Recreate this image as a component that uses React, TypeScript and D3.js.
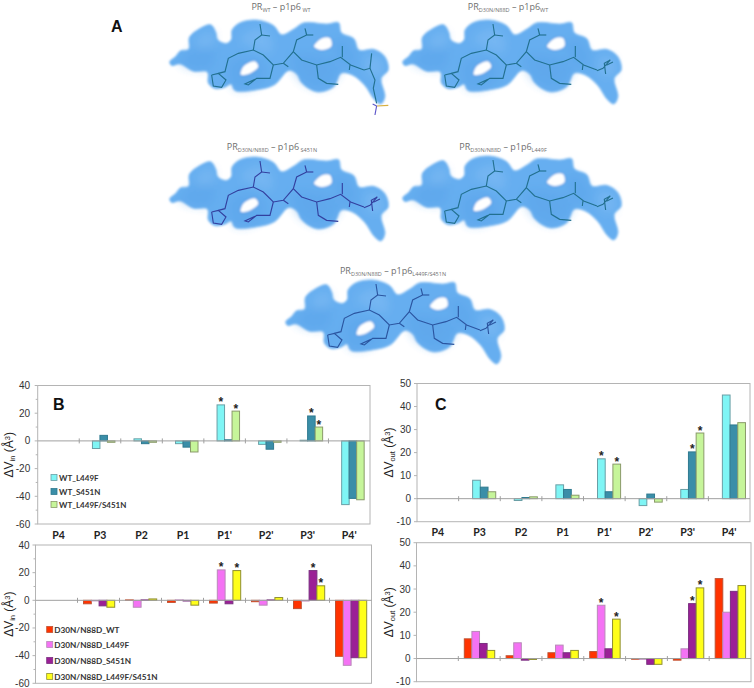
import React from "react";
import * as d3 from "d3";

const positions = ["P4", "P3", "P2", "P1", "P1'", "P2'", "P3'", "P4'"];

const wtSeries = ["WT_L449F", "WT_S451N", "WT_L449F/S451N"];
const wtColors = ["#7ff5f5", "#3a8ea8", "#c6f59a"];
const wtStroke = ["#6a9fa6", "#2f7a90", "#8a9a6a"];
const dnSeries = ["D30N/N88D_WT", "D30N/N88D_L449F", "D30N/N88D_S451N", "D30N/N88D_L449F/S451N"];
const dnColors = ["#ff3300", "#f472f4", "#9b2096", "#ffff1a"];
const dnStroke = ["#c05030", "#b88ab8", "#7a3080", "#8f8f30"];

const vinWt = [
  [0, -5.5, 1.5, -2, 26, -2.5, 0.5, -46],
  [0, 4, -2, -4.5, 0.8, -6, 18, -41.5],
  [0, -1, -1, -8, 21.5, -1, 10, -42.5],
];
const vinDn = [
  [0, -2.5, 0.3, -1.5, -2, -1, -6, -40.5],
  [0, -0.4, -5, 0.3, 22, -3.5, -0.5, -47],
  [0, -4, 0.3, -0.5, -2.5, 0.3, 21.5, -41.5],
  [0, -5, 1, -3.5, 21.5, 2, 10.5, -41.5],
];
const voutWt = [
  [0, 8, -0.8, 6, 17.3, -3, 4, 45],
  [0, 5, 0.5, 4, 3, 2, 20.3, 32],
  [0, 3, 0.8, 1.5, 15, -1.5, 28.5, 33],
];
const voutDn = [
  [0, 8.5, 1.2, 2.5, 3, -0.3, -0.7, 34.5],
  [0, 11.7, 6.8, 5.8, 23, -0.3, 4.2, 20],
  [0, 6.5, -0.7, 2.5, 4.2, -2.5, 23.7, 29],
  [0, 3.5, -0.4, 3.5, 17, -2.5, 30.5, 31.5],
];

const starsVinWt: [number, number][] = [[4, 0], [4, 2], [6, 1], [6, 2]];
const starsVinDn: [number, number][] = [[4, 1], [4, 3], [6, 2], [6, 3]];
const starsVoutWt: [number, number][] = [[4, 0], [4, 2], [6, 1], [6, 2]];
const starsVoutDn: [number, number][] = [[4, 1], [4, 3], [6, 2], [6, 3]];

// Molecular surface outline, holes and stick traces (3x units).
const blobOutline: [number, number][] = [
  [209, 185], [226, 170], [242, 152], [266, 148], [268, 112], [292, 90], [332, 74], [347, 95], [354, 120], [380, 130], [394, 118],
  [396, 90], [420, 68], [470, 60], [520, 76], [545, 104], [580, 88], [612, 68], [680, 72], [716, 68], [724, 98],
  [762, 116], [777, 150], [822, 148], [855, 170], [865, 210], [844, 235], [855, 290], [843, 312], [824, 300], [794, 256],
  [758, 226], [724, 220], [702, 260], [652, 276], [606, 250], [590, 222], [566, 212], [524, 254], [480, 268], [405, 272],
  [393, 252], [375, 262], [345, 266], [325, 250], [322, 216], [280, 214], [240, 192], [215, 197],
];
const holeA: [number, number][] = [[420, 225], [430, 197], [465, 182], [477, 200], [445, 225]];
const holeB: [number, number][] = [[640, 140], [665, 113], [692, 113], [696, 140], [665, 152]];
const shadeA: [number, number][] = [[400, 262], [388, 190], [440, 172], [490, 190], [490, 240], [440, 268]];
const shadeB: [number, number][] = [[600, 240], [575, 170], [640, 165], [710, 185], [720, 215], [670, 265]];
const shadeC: [number, number][] = [[240, 190], [265, 160], [320, 130], [345, 170], [325, 205], [280, 205]];
const shadeD: [number, number][] = [[700, 125], [740, 120], [770, 190], [730, 200]];
const glowA: [number, number][] = [[420, 120], [470, 85], [515, 110], [510, 160], [455, 140]];
const glowB: [number, number][] = [[290, 115], [335, 95], [345, 130], [300, 150]];
const glowC: [number, number][] = [[800, 170], [845, 180], [845, 225], [805, 225]];
const sticks: [number, number][][] = [
  [[335, 225], [355, 220], [378, 240], [365, 262], [340, 258], [335, 225]],
  [[355, 220], [375, 215], [385, 175], [415, 160], [460, 150], [490, 165], [520, 195], [550, 190], [580, 155], [590, 120], [620, 105]],
  [[460, 150], [465, 120], [485, 105], [480, 72]],
  [[485, 105], [510, 108]],
  [[520, 195], [510, 235], [470, 235], [445, 255], [435, 252], [465, 238]],
  [[550, 190], [565, 200]],
  [[620, 105], [615, 85]],
  [[620, 105], [640, 105]],
  [[580, 155], [605, 180], [650, 195], [690, 185], [722, 172], [752, 195], [792, 210]],
  [[650, 195], [655, 235], [680, 250], [715, 253]],
  [[727, 172], [727, 138]],
  [[750, 195], [748, 210]],
];
const endWt: [number, number][][] = [
  [[792, 210], [810, 205], [825, 240], [820, 265], [830, 310]],
  [[810, 205], [815, 160]],
];
const endMutant: [number, number][][] = [
  [[792, 212], [810, 205], [832, 180], [814, 190], [818, 222]],
  [[820, 196], [840, 186]],
];
const tail: [number, number][][] = [
  [[830, 318], [865, 316]],
  [[830, 318], [825, 345]],
  [[830, 318], [818, 312]],
];

const BLOB = "#66aef0";
const closed = d3.line().curve(d3.curveCatmullRomClosed.alpha(0.5));
const open = d3.line().curve(d3.curveLinear);
const SANS = "Liberation Sans, sans-serif";
const HEAD = "Lato, sans-serif";

function Molecule({ dx, dy, stick, wt }: { dx: number; dy: number; stick: string; wt?: boolean }) {
  const lines = sticks.concat(wt ? endWt : endMutant);
  return (
    <g transform={`translate(${100 + dx},${dy}) scale(0.3333)`}>
      <g filter="url(#soft)">
        <path d={closed(blobOutline) || ""} fill={BLOB} stroke="#8cc2f3" strokeWidth={3} />
        {[shadeA, shadeB, shadeC, shadeD].map((s, i) => (
          <path key={i} d={closed(s) || ""} fill="#5aa2e8" opacity={0.45} filter="url(#blurBig)" />
        ))}
        {[glowA, glowB, glowC].map((s, i) => (
          <path key={i} d={closed(s) || ""} fill="#82bdf4" opacity={0.5} filter="url(#blurBig)" />
        ))}
        {[holeA, holeB].map((s, i) => (
          <path key={i} d={closed(s) || ""} fill="#ffffff" stroke="#5aa0e6" strokeWidth={4} />
        ))}
      </g>
      <g filter="url(#soft2)" fill="none" stroke={stick} strokeWidth={3.4}>
        {lines.map((s, i) => (
          <path key={i} d={open(s) || ""} />
        ))}
        {wt && tail.map((s, i) => (
          <path key={i} d={open(s) || ""} stroke={i === 0 ? "#d8b040" : "#5b55c8"} />
        ))}
      </g>
    </g>
  );
}

function MolTitle({ x, y, left, right }: { x: number; y: number; left: string; right: string }) {
  return (
    <text x={x} y={y} textAnchor="middle" fontFamily="Open Sans, sans-serif" fontSize={9} fill="#6f6f6f">
      PR<tspan fontSize={5.5} dy={2}>{left}</tspan>
      <tspan dy={-2}> – p1p6</tspan>
      <tspan fontSize={5.5} dy={2}>{right}</tspan>
    </text>
  );
}

type ChartProps = {
  left: number; right: number; yTop: number; yBottom: number; domain: [number, number];
  major: number; barStart: number; barWidth: number; tickGap: number; minor?: boolean;
  values: number[][]; colors: string[]; strokes: string[]; stars: [number, number][];
  showLabels?: boolean; labelY?: number; sub: string; titleX: number;
};

function Chart(p: ChartProps) {
  const x = d3.scaleBand<string>().domain(positions).range([p.left, p.right]);
  const y = d3.scaleLinear().domain(p.domain).range([p.yBottom, p.yTop]);
  const inner = d3.scaleBand<number>()
    .domain(p.values.map((_, i) => i))
    .range([p.barStart, p.barStart + p.barWidth * p.values.length]);
  const majors = d3.range(p.domain[0], p.domain[1] + 0.01, p.major);
  const minors = p.minor ? d3.range(p.domain[0], p.domain[1] + 0.01, p.major / 2) : majors;
  const zero = y(0);
  return (
    <g>
      <rect x={p.left} y={p.yTop} width={p.right - p.left} height={p.yBottom - p.yTop} fill="none" stroke="#b4b4b4" strokeWidth={1} />
      {minors.map((t) => (
        <line key={t} x1={p.left - (majors.includes(t) ? 3 : 2)} x2={p.left} y1={y(t)} y2={y(t)} stroke="#b4b4b4" />
      ))}
      {majors.map((t) => (
        <text key={t} x={p.left - p.tickGap} y={y(t) + 3.5} textAnchor="end" fontFamily={SANS} fontSize={10} fill="#333">{t}</text>
      ))}
      {p.values.map((series, s) =>
        series.map((v, c) =>
          c === 0 ? null : (
            <rect key={`${s}-${c}`} x={(x(positions[c]) as number) + (inner(s) as number)} width={p.barWidth}
              y={Math.min(y(v), zero)} height={Math.abs(y(v) - zero)}
              fill={p.colors[s]} stroke={p.strokes[s]} strokeWidth={1} />
          ),
        ),
      )}
      <line x1={p.left} x2={p.right} y1={zero} y2={zero} stroke="#a0a0a0" />
      {positions.map((c, i) => (i === 0 ? null : (
        <line key={c} x1={x(c)} x2={x(c)} y1={zero - 2.5} y2={zero + 2.5} stroke="#a0a0a0" />
      )))}
      {p.showLabels && positions.map((c) => (
        <text key={c} x={(x(c) as number) + x.bandwidth() / 2} y={p.labelY} textAnchor="middle"
          fontFamily={HEAD} fontWeight="bold" fontSize={10.5} fill="#222">{c}</text>
      ))}
      {p.stars.map(([c, s]) => {
        const v = p.values[s][c];
        return (
          <text key={`${c}-${s}`} x={(x(positions[c]) as number) + (inner(s) as number) + p.barWidth / 2} y={y(v) + 1.5}
            textAnchor="middle" fontFamily={SANS} fontWeight="bold" fontSize={12} fill="#222">*</text>
        );
      })}
      <text transform={`translate(${p.titleX},${(p.yTop + p.yBottom) / 2}) rotate(-90)`} textAnchor="middle"
        fontFamily={SANS} fontSize={12} fill="#222">
        ΔV<tspan fontSize={7.5} dy={2}>{p.sub}</tspan><tspan dy={-2}> (Å</tspan><tspan fontSize={7.5} dy={-3}>3</tspan><tspan dy={3}>)</tspan>
      </text>
    </g>
  );
}

function Legend({ x, ys, gap, size, labels, colors, strokes }: { x: number; ys: number[]; gap: number; size: number; labels: string[]; colors: string[]; strokes: string[] }) {
  return (
    <g>
      {labels.map((l, i) => (
        <g key={l}>
          <rect x={x} y={ys[i] - 3.5} width={6} height={6} fill={colors[i]} stroke={strokes[i]} strokeWidth={0.8} />
          <text x={x + gap} y={ys[i] + 3} fontFamily={HEAD} fontWeight="bold" fontSize={size} fill="#333">{l}</text>
        </g>
      ))}
    </g>
  );
}

export default function App() {
  return (
    <svg width={754} height={688} viewBox="0 0 754 688" style={{ position: "absolute", left: 0, top: 0, background: "#fff" }}>
      <defs>
        <filter id="soft" x="-5%" y="-5%" width="110%" height="110%"><feGaussianBlur stdDeviation={3.5} /></filter>
        <filter id="soft2" x="-5%" y="-5%" width="110%" height="110%"><feGaussianBlur stdDeviation={0.8} /></filter>
        <filter id="blurBig" x="-30%" y="-30%" width="160%" height="160%"><feGaussianBlur stdDeviation={12} /></filter>
      </defs>

      <text x={111} y={32} fontFamily={SANS} fontWeight="bold" fontSize={16} fill="#111">A</text>

      <MolTitle x={281} y={10} left="WT" right=" WT" />
      <Molecule dx={0} dy={0} stick="#22708f" wt />
      <MolTitle x={508} y={10} left="D30N/N88D" right="WT" />
      <Molecule dx={233} dy={0} stick="#22708f" />
      <MolTitle x={272} y={150} left="D30N/N88D" right=" S451N" />
      <Molecule dx={0} dy={137} stick="#33409f" />
      <MolTitle x={503} y={150} left="D30N/N88D" right="L449F" />
      <Molecule dx={233} dy={136} stick="#22708f" />
      <MolTitle x={393} y={274} left="D30N/N88D" right="L449F/S451N" />
      <Molecule dx={116} dy={260} stick="#2b55a0" />

      <text x={53} y={410} fontFamily={SANS} fontWeight="bold" fontSize={16} fill="#111">B</text>
      <text x={435} y={410} fontFamily={SANS} fontWeight="bold" fontSize={16} fill="#111">C</text>

      <Chart left={37.7} right={370} yTop={385.5} yBottom={524} domain={[-60, 40]} major={20} minor tickGap={7.5} barStart={13.2} barWidth={7.5}
        values={vinWt} colors={wtColors} strokes={wtStroke} stars={starsVinWt} showLabels labelY={539} sub="in" titleX={12.5} />
      <Legend x={51} ys={[478, 492, 505]} gap={8} size={8} labels={wtSeries} colors={wtColors} strokes={wtStroke} />

      <Chart left={35.5} right={371.5} yTop={545} yBottom={683.3} domain={[-60, 40]} major={20} minor tickGap={6} barStart={6} barWidth={7.8}
        values={vinDn} colors={dnColors} strokes={dnStroke} stars={starsVinDn} sub="in" titleX={12.5} />
      <Legend x={46.7} ys={[630, 645, 661, 677]} gap={7.6} size={8.2} labels={dnSeries} colors={dnColors} strokes={dnStroke} />

      <Chart left={417} right={750} yTop={383.5} yBottom={521.7} domain={[-10, 50]} major={10} tickGap={6} barStart={14} barWidth={7.7}
        values={voutWt} colors={wtColors} strokes={wtStroke} stars={starsVoutWt} showLabels labelY={536} sub="out" titleX={393} />

      <Chart left={416.5} right={751} yTop={542.7} yBottom={681.7} domain={[-10, 50]} major={10} tickGap={6} barStart={6} barWidth={7.6}
        values={voutDn} colors={dnColors} strokes={dnStroke} stars={starsVoutDn} sub="out" titleX={393} />
    </svg>
  );
}
